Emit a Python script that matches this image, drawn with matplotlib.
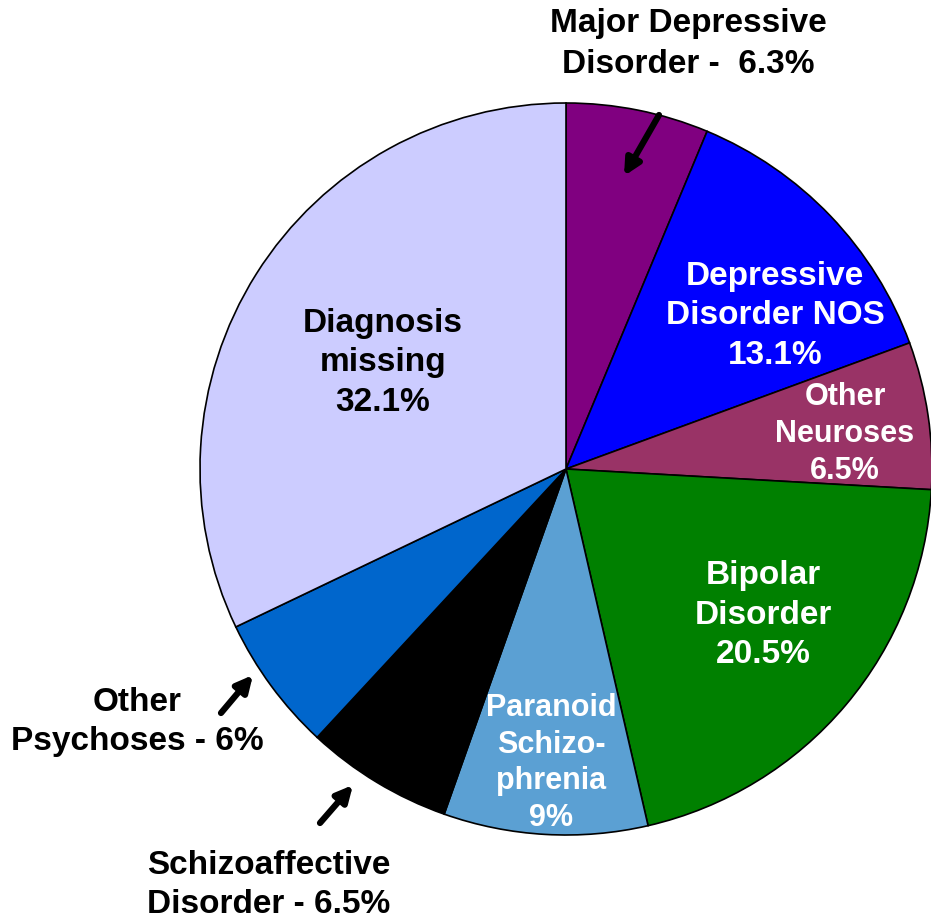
import matplotlib.pyplot as plt

# Datos del gráfico (en sentido horario desde arriba)
categorias = ['Major Depressive Disorder', 'Depressive Disorder NOS', 'Other Neuroses',
              'Bipolar Disorder', 'Paranoid Schizophrenia', 'Schizoaffective Disorder',
              'Other Psychoses', 'Diagnosis missing']
valores = [6.3, 13.1, 6.5, 20.5, 9, 6.5, 6, 32.1]
colores = ['#800080', '#0000FF', '#993366', '#008000', '#5BA0D3', '#000000',
           '#0066CC', '#CCCCFF']

etiquetas_internas = ['', 'Depressive\nDisorder NOS\n13.1%', 'Other\nNeuroses\n6.5%',
                      'Bipolar\nDisorder\n20.5%', 'Paranoid\nSchizo-\nphrenia\n9%', '', '',
                      'Diagnosis\nmissing\n32.1%']
etiquetas_externas = ['Major Depressive\nDisorder -  6.3%', 'Other\nPsychoses - 6%',
                      'Schizoaffective\nDisorder - 6.5%']

plt.rcParams['font.family'] = ['Liberation Sans', 'DejaVu Sans']
plt.rcParams['font.weight'] = 'bold'

W, H = 931, 923
fig = plt.figure(figsize=(W / 100, H / 100), dpi=100)
ax = fig.add_axes([0, 0, 1, 1])

def py(y):
    # convertir coordenada de píxel (desde arriba) a datos
    return H - y

centro = (566, py(469))
radio = 366

ax.pie(valores, colors=colores, startangle=90, counterclock=False,
       center=centro, radius=radio,
       wedgeprops=dict(edgecolor='black', linewidth=1.2))

ax.set_xlim(0, W)
ax.set_ylim(0, H)
ax.set_aspect('equal')
ax.axis('off')

# Etiquetas dentro de las porciones
pos_internas = [None, (775, 316), (845, 434), (763, 615), (551, 763), None, None, (383, 363)]
colores_texto = [None, 'white', 'white', 'white', 'white', None, None, 'black']
tamanos = [None, 24, 22, 24, 22, None, None, 24]
interlineado = [None, 1.37, 1.29, 1.37, 1.29, None, None, 1.37]
for txt, pos, c, fs, ls in zip(etiquetas_internas, pos_internas, colores_texto, tamanos, interlineado):
    if pos is None:
        continue
    ax.text(pos[0], py(pos[1]), txt, color=c, fontsize=fs, fontweight='bold',
            ha='center', va='center', linespacing=ls)

# Etiquetas externas
pos_externas = [(688, 44), (137, 722), (269, 885)]
interlineado_ext = [1.45, 1.33, 1.33]
for txt, pos, ls in zip(etiquetas_externas, pos_externas, interlineado_ext):
    ax.text(pos[0], py(pos[1]), txt, color='black', fontsize=24, fontweight='bold',
            ha='center', va='center', linespacing=ls)

# Flechas
flechas = [((659, 115), (624, 176)), ((221, 713), (253, 675)), ((320, 823), (353, 785))]
for cola, punta in flechas:
    ax.annotate('', xy=(punta[0], py(punta[1])), xytext=(cola[0], py(cola[1])),
                arrowprops=dict(arrowstyle='-|>', color='black', lw=4.5,
                                mutation_scale=24, shrinkA=0, shrinkB=0))

fig.savefig('out.png', dpi=100)
